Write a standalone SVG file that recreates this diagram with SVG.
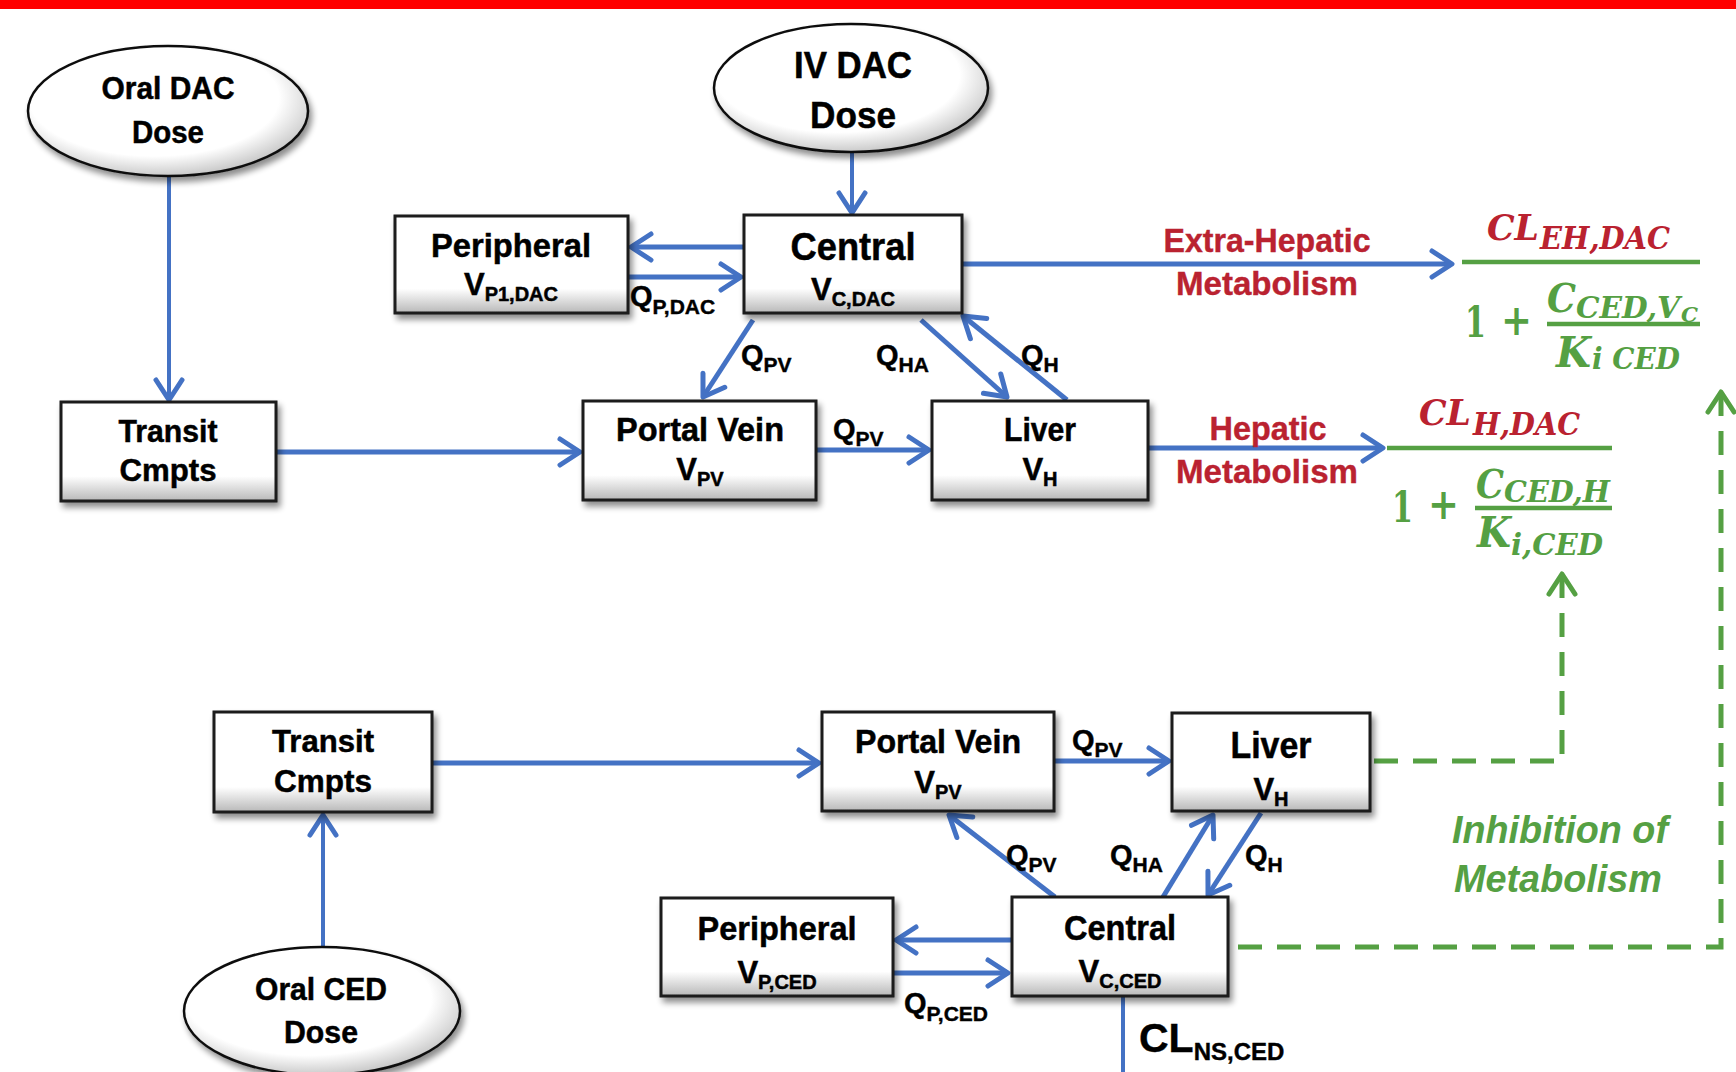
<svg xmlns="http://www.w3.org/2000/svg" width="1736" height="1072" viewBox="0 0 1736 1072">
<defs>
<style>
.t{font-family:"Liberation Sans",Arial,sans-serif;font-weight:bold;fill:#000;text-anchor:middle;stroke:#000;stroke-width:0.5}
.q{font-family:"Liberation Sans",Arial,sans-serif;font-weight:bold;fill:#000;font-size:29px;stroke:#000;stroke-width:0.4}
.s{font-size:20px}
.qs{font-size:21px}
.box{fill:url(#boxg);stroke:#1a1a1a;stroke-width:3;filter:url(#sh)}
.ell{fill:url(#ellg);stroke:#111;stroke-width:2.5;filter:url(#sh)}
.c{stroke:#4472C4;stroke-width:5;fill:none;marker-end:url(#ab)}
.thin{stroke-width:4}
.g{stroke:#55A043;stroke-width:5;stroke-dasharray:24 15;fill:none;marker-start:url(#ag)}
.rt{font-family:"Liberation Sans",Arial,sans-serif;font-weight:bold;fill:#BA2230;text-anchor:middle;stroke:#BA2230;stroke-width:0.4}
.gt{font-family:"Liberation Sans",Arial,sans-serif;font-weight:bold;font-style:italic;fill:#55A043;text-anchor:middle;font-size:39px}
.fr{font-family:"DejaVu Serif","Liberation Serif",serif;font-weight:bold;font-style:italic;fill:#BA2230}
.fg{font-family:"DejaVu Serif","Liberation Serif",serif;font-weight:bold;font-style:italic;fill:#55A043}
.fu{font-family:"DejaVu Serif","Liberation Serif",serif;font-weight:bold;fill:#55A043}
.fl{stroke:#55A043;stroke-width:4.5}
</style>
<linearGradient id="boxg" x1="0" y1="0" x2="0" y2="1">
<stop offset="0" stop-color="#ffffff"/>
<stop offset="0.75" stop-color="#ffffff"/>
<stop offset="1" stop-color="#b8b8b8"/>
</linearGradient>
<radialGradient id="ellg" cx="0.45" cy="0.4" r="0.62">
<stop offset="0" stop-color="#ffffff"/>
<stop offset="0.72" stop-color="#ffffff"/>
<stop offset="1" stop-color="#c4c4c4"/>
</radialGradient>
<filter id="sh" x="-10%" y="-10%" width="130%" height="140%">
<feGaussianBlur in="SourceAlpha" stdDeviation="3"/>
<feOffset dx="3" dy="5"/>
<feComponentTransfer><feFuncA type="linear" slope="0.45"/></feComponentTransfer>
<feMerge><feMergeNode/><feMergeNode in="SourceGraphic"/></feMerge>
</filter>
<marker id="ab" markerUnits="userSpaceOnUse" markerWidth="32" markerHeight="34" viewBox="0 0 32 34" refX="27" refY="17" orient="auto">
<path d="M7,4 L27,17 L7,30" fill="none" stroke="#4472C4" stroke-width="5" stroke-linecap="round" stroke-linejoin="round"/>
</marker>
<marker id="ag" markerUnits="userSpaceOnUse" markerWidth="32" markerHeight="34" viewBox="0 0 32 34" refX="27" refY="17" orient="auto-start-reverse">
<path d="M7,4 L27,17 L7,30" fill="none" stroke="#55A043" stroke-width="5" stroke-dasharray="none" stroke-linecap="round" stroke-linejoin="round"/>
</marker>
</defs>
<rect x="0" y="0" width="1736" height="1072" fill="#ffffff"/>
<rect x="0" y="0" width="1736" height="9" fill="#FF0000"/>

<g id="connectors">
<path class="c thin" d="M169,157 L169,400"/>
<path class="c thin" d="M852,152 L852,213"/>
<path class="c" d="M744,247 L631,247"/>
<path class="c" d="M628,277 L741,277"/>
<path class="c" d="M962,264 L1452,264"/>
<path class="c" d="M276,452 L580,452"/>
<path class="c" d="M816,450 L929,450"/>
<path class="c" d="M1148,448 L1383,448"/>
<path class="c" d="M753,320 L703,397"/>
<path class="c" d="M921,320 L1007,397"/>
<path class="c" d="M1067,400 L963,316"/>
<path class="c" d="M432,763 L819,763"/>
<path class="c thin" d="M323,947 L323,815"/>
<path class="c" d="M1055,761 L1169,761"/>
<path class="c" d="M1055,897 L949,815"/>
<path class="c" d="M1163,897 L1213,815"/>
<path class="c" d="M1261,813 L1208,895"/>
<path class="c" d="M1012,940 L896,940"/>
<path class="c" d="M893,973 L1008,973"/>
<path d="M1123,996 L1123,1072" stroke="#4472C4" stroke-width="4" fill="none"/>
<path class="g" d="M1562,574 L1562,761 L1372,761"/>
<path class="g" d="M1721,392 L1721,947 L1230,947"/>
</g>

<g id="labels">
<text class="q" x="630" y="306">Q<tspan class="qs" dy="8">P,DAC</tspan></text>
<text class="q" x="741" y="365">Q<tspan class="qs" dy="7">PV</tspan></text>
<text class="q" x="876" y="365">Q<tspan class="qs" dy="7">HA</tspan></text>
<text class="q" x="1021" y="365">Q<tspan class="qs" dy="7">H</tspan></text>
<text class="q" x="833" y="439">Q<tspan class="qs" dy="7">PV</tspan></text>
<text class="q" x="1072" y="750">Q<tspan class="qs" dy="7">PV</tspan></text>
<text class="q" x="1006" y="865">Q<tspan class="qs" dy="7">PV</tspan></text>
<text class="q" x="1110" y="865">Q<tspan class="qs" dy="7">HA</tspan></text>
<text class="q" x="1245" y="865">Q<tspan class="qs" dy="7">H</tspan></text>
<text class="q" x="904" y="1013">Q<tspan class="qs" dy="8">P,CED</tspan></text>
<text class="q" x="1139" y="1052" style="font-size:41px">CL<tspan style="font-size:24px" dy="8">NS,CED</tspan></text>
<text class="rt" x="1267" y="252" font-size="33" textLength="207" lengthAdjust="spacingAndGlyphs">Extra-Hepatic</text>
<text class="rt" x="1267" y="295" font-size="34" textLength="182" lengthAdjust="spacingAndGlyphs">Metabolism</text>
<text class="rt" x="1268" y="440" font-size="33" textLength="117" lengthAdjust="spacingAndGlyphs">Hepatic</text>
<text class="rt" x="1267" y="483" font-size="34" textLength="182" lengthAdjust="spacingAndGlyphs">Metabolism</text>
<text class="gt" x="1560" y="843" textLength="216" lengthAdjust="spacingAndGlyphs">Inhibition of</text>
<text class="gt" x="1558" y="892" textLength="208" lengthAdjust="spacingAndGlyphs">Metabolism</text>
</g>

<g id="formula-eh">
<text class="fr" x="1487" y="240" font-size="35" textLength="52" lengthAdjust="spacingAndGlyphs">CL</text>
<text class="fr" x="1540" y="249" font-size="31" textLength="130" lengthAdjust="spacingAndGlyphs">EH,DAC</text>
<line class="fl" x1="1462" y1="262" x2="1700" y2="262"/>
<text class="fu" x="1465" y="337" font-size="43" textLength="21" lengthAdjust="spacingAndGlyphs">1</text>
<text class="fu" x="1501" y="335" font-size="43" textLength="31" lengthAdjust="spacingAndGlyphs">+</text>
<line class="fl" x1="1547" y1="324" x2="1700" y2="324"/>
<text class="fg" x="1547" y="312" font-size="40" textLength="29" lengthAdjust="spacingAndGlyphs">C</text>
<text class="fg" x="1576" y="318" font-size="30" textLength="104" lengthAdjust="spacingAndGlyphs">CED,V</text>
<text class="fg" x="1681" y="322" font-size="21" textLength="17" lengthAdjust="spacingAndGlyphs">C</text>
<text class="fg" x="1556" y="367" font-size="42" textLength="35" lengthAdjust="spacingAndGlyphs">K</text>
<text class="fg" x="1592" y="369" font-size="30" textLength="88" lengthAdjust="spacingAndGlyphs">i CED</text>
</g>

<g id="formula-h">
<text class="fr" x="1419" y="425" font-size="35" textLength="52" lengthAdjust="spacingAndGlyphs">CL</text>
<text class="fr" x="1473" y="435" font-size="31" textLength="107" lengthAdjust="spacingAndGlyphs">H,DAC</text>
<line class="fl" x1="1387" y1="448" x2="1612" y2="448"/>
<text class="fu" x="1392" y="522" font-size="43" textLength="21" lengthAdjust="spacingAndGlyphs">1</text>
<text class="fu" x="1428" y="519" font-size="43" textLength="31" lengthAdjust="spacingAndGlyphs">+</text>
<line class="fl" x1="1475" y1="508" x2="1612" y2="508"/>
<text class="fg" x="1476" y="498" font-size="40" textLength="28" lengthAdjust="spacingAndGlyphs">C</text>
<text class="fg" x="1504" y="502" font-size="30" textLength="106" lengthAdjust="spacingAndGlyphs">CED,H</text>
<text class="fg" x="1477" y="547" font-size="42" textLength="34" lengthAdjust="spacingAndGlyphs">K</text>
<text class="fg" x="1511" y="555" font-size="30" textLength="92" lengthAdjust="spacingAndGlyphs">i,CED</text>
</g>

<g id="oral-dac-dose">
<ellipse class="ell" cx="168" cy="111" rx="140" ry="65"/>
<text class="t" x="168" y="99" font-size="32" textLength="133" lengthAdjust="spacingAndGlyphs">Oral DAC</text>
<text class="t" x="168" y="143" font-size="32" textLength="72" lengthAdjust="spacingAndGlyphs">Dose</text>
</g>
<g id="iv-dac-dose">
<ellipse class="ell" cx="851" cy="88" rx="137" ry="64"/>
<text class="t" x="853" y="78" font-size="37" textLength="118" lengthAdjust="spacingAndGlyphs">IV DAC</text>
<text class="t" x="853" y="128" font-size="37" textLength="86" lengthAdjust="spacingAndGlyphs">Dose</text>
</g>
<g id="oral-ced-dose">
<ellipse class="ell" cx="322" cy="1011" rx="138" ry="64"/>
<text class="t" x="321" y="1000" font-size="32" textLength="132" lengthAdjust="spacingAndGlyphs">Oral CED</text>
<text class="t" x="321" y="1043" font-size="32" textLength="74" lengthAdjust="spacingAndGlyphs">Dose</text>
</g>

<g id="peripheral-dac">
<rect class="box" x="395" y="216" width="233" height="97"/>
<text class="t" x="511" y="257" font-size="34" textLength="160" lengthAdjust="spacingAndGlyphs">Peripheral</text>
<text class="t" x="511" y="295" font-size="31">V<tspan class="s" dy="6">P1,DAC</tspan></text>
</g>
<g id="central-dac">
<rect class="box" x="744" y="215" width="218" height="98"/>
<text class="t" x="853" y="260" font-size="38" textLength="125" lengthAdjust="spacingAndGlyphs">Central</text>
<text class="t" x="853" y="300" font-size="31">V<tspan class="s" dy="6">C,DAC</tspan></text>
</g>
<g id="transit-dac">
<rect class="box" x="61" y="402" width="215" height="99"/>
<text class="t" x="168" y="442" font-size="32" textLength="99" lengthAdjust="spacingAndGlyphs">Transit</text>
<text class="t" x="168" y="481" font-size="32" textLength="97" lengthAdjust="spacingAndGlyphs">Cmpts</text>
</g>
<g id="portal-dac">
<rect class="box" x="583" y="401" width="233" height="99"/>
<text class="t" x="700" y="441" font-size="33" textLength="168" lengthAdjust="spacingAndGlyphs">Portal Vein</text>
<text class="t" x="700" y="480" font-size="31">V<tspan class="s" dy="6">PV</tspan></text>
</g>
<g id="liver-dac">
<rect class="box" x="932" y="401" width="216" height="99"/>
<text class="t" x="1040" y="441" font-size="33" textLength="72" lengthAdjust="spacingAndGlyphs">Liver</text>
<text class="t" x="1040" y="480" font-size="31">V<tspan class="s" dy="6">H</tspan></text>
</g>
<g id="transit-ced">
<rect class="box" x="214" y="712" width="218" height="100"/>
<text class="t" x="323" y="752" font-size="32" textLength="102" lengthAdjust="spacingAndGlyphs">Transit</text>
<text class="t" x="323" y="792" font-size="32" textLength="98" lengthAdjust="spacingAndGlyphs">Cmpts</text>
</g>
<g id="portal-ced">
<rect class="box" x="822" y="712" width="232" height="99"/>
<text class="t" x="938" y="753" font-size="33" textLength="166" lengthAdjust="spacingAndGlyphs">Portal Vein</text>
<text class="t" x="938" y="793" font-size="31">V<tspan class="s" dy="6">PV</tspan></text>
</g>
<g id="liver-ced">
<rect class="box" x="1172" y="713" width="198" height="98"/>
<text class="t" x="1271" y="758" font-size="36" textLength="81" lengthAdjust="spacingAndGlyphs">Liver</text>
<text class="t" x="1271" y="800" font-size="31">V<tspan class="s" dy="6">H</tspan></text>
</g>
<g id="peripheral-ced">
<rect class="box" x="661" y="898" width="232" height="98"/>
<text class="t" x="777" y="940" font-size="34" textLength="159" lengthAdjust="spacingAndGlyphs">Peripheral</text>
<text class="t" x="777" y="983" font-size="31">V<tspan class="s" dy="6">P,CED</tspan></text>
</g>
<g id="central-ced">
<rect class="box" x="1012" y="897" width="216" height="99"/>
<text class="t" x="1120" y="940" font-size="35" textLength="112" lengthAdjust="spacingAndGlyphs">Central</text>
<text class="t" x="1120" y="982" font-size="31">V<tspan class="s" dy="6">C,CED</tspan></text>
</g>
</svg>
